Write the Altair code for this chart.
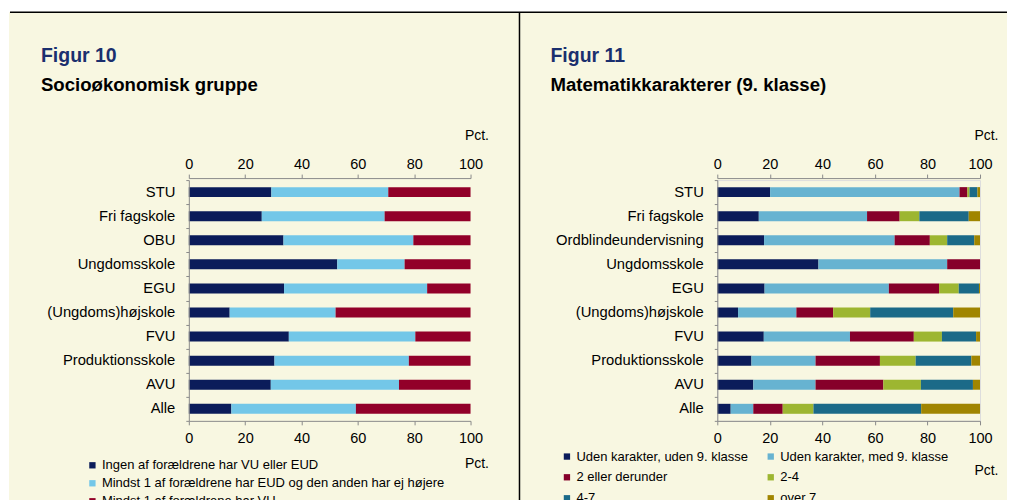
import altair as alt
import pandas as pd

FONT = "Liberation Sans"
CREAM = "#F8F7E1"
NAVY_TITLE = "#1B2F6E"

ticks = [0, 20, 40, 60, 80, 100]

# ---- Figur 10 ----
cats_left = ["STU", "Fri fagskole", "OBU", "Ungdomsskole", "EGU",
             "(Ungdoms)højskole", "FVU", "Produktionsskole", "AVU", "Alle"]
ser_left = ["Ingen af forældrene har VU eller EUD",
            "Mindst 1 af forældrene har EUD og den anden har ej højere",
            "Mindst 1 af forældrene har VU"]
left_dark = [29.3, 25.9, 33.6, 52.7, 33.8, 14.5, 35.5, 30.4, 29.1, 15.1]
left_light = [41.5, 43.6, 46.1, 23.9, 50.8, 37.6, 44.9, 47.7, 45.5, 44.2]
left_red = [29.2, 30.5, 20.3, 23.4, 15.4, 47.9, 19.6, 21.9, 25.4, 40.7]
col_left = ["#0B1C5A", "#73C7E8", "#920029"]

# ---- Figur 11 ----
cats_right = ["STU", "Fri fagskole", "Ordblindeundervisning", "Ungdomsskole", "EGU",
              "(Ungdoms)højskole", "FVU", "Produktionsskole", "AVU", "Alle"]
ser_right = ["Uden karakter, uden 9. klasse", "Uden karakter, med 9. klasse",
             "2 eller derunder", "2-4", "4-7", "over 7"]
r_s1 = [20.1, 15.8, 17.8, 38.5, 18.0, 7.9, 17.7, 13.0, 13.7, 5.1]
r_s2 = [72.1, 41.2, 49.7, 49.0, 47.3, 22.2, 32.8, 24.4, 23.7, 8.6]
r_s3 = [3.0, 12.4, 13.4, 12.5, 19.1, 14.0, 24.3, 24.5, 25.8, 11.2]
r_s4 = [0.8, 7.5, 6.6, 0.0, 7.5, 14.1, 10.7, 13.6, 14.3, 11.7]
r_s5 = [3.0, 18.8, 10.3, 0.0, 7.7, 31.6, 13.0, 21.2, 19.8, 41.0]
r_s6 = [1.0, 4.3, 2.2, 0.0, 0.4, 10.2, 1.5, 3.3, 2.7, 22.4]
col_right = ["#0B1C5A", "#67B3D1", "#86002A", "#9DB631", "#1B6A88", "#A08500"]


def long_df(cats, series, cols):
    rows = []
    for si, (s, vals) in enumerate(zip(series, cols)):
        for c, v in zip(cats, vals):
            rows.append({"cat": c, "series": s, "value": v, "idx": si})
    return pd.DataFrame(rows)


df_left = long_df(cats_left, ser_left, [left_dark, left_light, left_red])
df_right = long_df(cats_right, ser_right, [r_s1, r_s2, r_s3, r_s4, r_s5, r_s6])
df_ticks = pd.DataFrame({"tick": ticks})
one = alt.Data(values=[{"a": 1}])

H = 241
AX = dict(domainColor="#8a8a8a", tickColor="#8a8a8a", labelColor="#000000",
          labelFont=FONT, grid=False, domainWidth=1, tickWidth=1, zindex=1)


def panel(df, cats, series, colors, W, fig, sub, title_dx, leg_x, leg_y, cols,
          direction, row_pad, pct_bot_y, extra):
    xscale = alt.Scale(domain=[0, 100], nice=False)
    bars = alt.Chart(df).mark_bar(size=10).encode(
        x=alt.X("value:Q", stack="zero", scale=xscale,
                axis=alt.Axis(orient="top", values=ticks, title="Pct.", offset=2,
                              titleX=W + 18, titleY=-43, titleAlign="right",
                              titleBaseline="middle", titleFontWeight="normal",
                              titleFontSize=14, titleFont=FONT, titleColor="#000000",
                              titleAngle=0, tickSize=4, labelPadding=3,
                              labelFlush=False, labelOverlap=False,
                              labelFontSize=14.5, **AX)),
        y=alt.Y("cat:N", sort=cats, title=None,
                scale=alt.Scale(paddingInner=0, paddingOuter=0),
                axis=alt.Axis(orient="left", tickBand="extent", tickSize=3,
                              labelPadding=11, labelFontSize=14.8, labelLimit=400,
                              **AX)),
        color=alt.Color("series:N", scale=alt.Scale(domain=series, range=colors),
                        legend=alt.Legend(orient="none", legendX=leg_x, legendY=leg_y,
                                          title=None, symbolType="square",
                                          symbolSize=40, symbolStrokeWidth=0,
                                          symbolOpacity=1, padding=0,
                                          labelFontSize=13, labelFont=FONT,
                                          labelColor="#000000", columns=cols,
                                          direction=direction,
                                          rowPadding=row_pad, columnPadding=16,
                                          labelOffset=3, labelLimit=500)),
        order=alt.Order("idx:Q"),
    )
    bottom = alt.Chart(df_ticks).mark_tick(opacity=0).encode(
        x=alt.X("tick:Q", scale=xscale,
                axis=alt.Axis(orient="bottom", values=ticks, title="Pct.",
                              titleX=W + 18, titleY=pct_bot_y, titleAlign="right",
                              titleBaseline="middle", titleFontWeight="normal",
                              titleFontSize=14, titleFont=FONT, titleColor="#000000",
                              titleAngle=0, tickSize=4, labelPadding=7,
                              labelFlush=False, labelOverlap=False,
                              labelFontSize=14.5, **AX)),
    )
    t1 = alt.Chart(one).mark_text(text=fig, align="left", baseline="alphabetic",
                                  font=FONT, fontSize=19.5, fontWeight="bold",
                                  color=NAVY_TITLE).encode(
        x=alt.value(title_dx), y=alt.value(-118))
    t2 = alt.Chart(one).mark_text(text=sub, align="left", baseline="alphabetic",
                                  font=FONT, fontSize=18.6, fontWeight="bold",
                                  color="#000000").encode(
        x=alt.value(title_dx), y=alt.value(-89))
    layers = extra + [t1, t2, bars, bottom]
    return alt.layer(*layers).properties(width=W, height=H).resolve_axis(x="independent")


bg = alt.Chart(one).mark_rect(color=CREAM).encode(
    x=alt.value(-180), x2=alt.value(819), y=alt.value(-168), y2=alt.value(340))
top_line = alt.Chart(one).mark_rule(color="#000000", strokeWidth=1.5).encode(
    x=alt.value(-179), x2=alt.value(819), y=alt.value(-168))
divider = alt.Chart(one).mark_rule(color="#000000", strokeWidth=1.5).encode(
    x=alt.value(-198), y=alt.value(-168), y2=alt.value(340))

left = panel(df_left, cats_left, ser_left, col_left, 282, "Figur 10",
             "Socioøkonomisk gruppe", -148, -103, 279, 1, "vertical", 4, 43,
             [bg, top_line])
right = panel(df_right, cats_right, ser_right, col_right, 263, "Figur 11",
              "Matematikkarakterer (9. klasse)", -167, -157, 270, 2, "horizontal",
              7, 50, [divider])

chart = alt.hconcat(left, right, spacing=247, bounds="flush").resolve_scale(
    color="independent"
).resolve_legend(color="independent").properties(
    padding={"left": 0, "top": 2, "right": 0, "bottom": 0}
).configure_view(strokeWidth=0).configure(background="white", font=FONT)

chart.save("out.html", embed_options={"renderer": "svg", "actions": False})
